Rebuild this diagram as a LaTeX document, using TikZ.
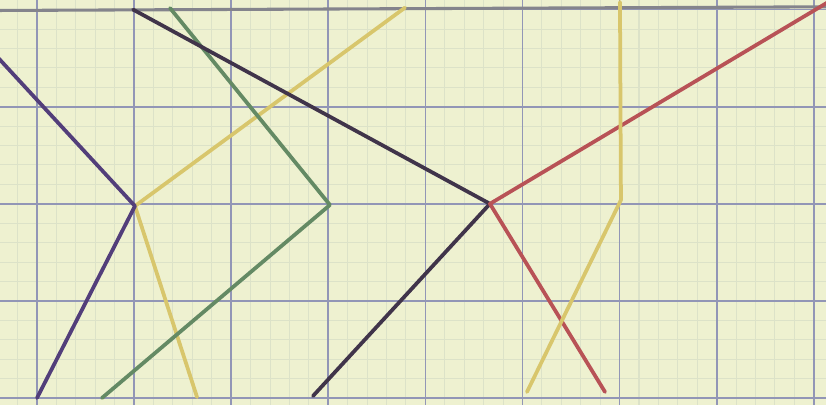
\documentclass[tikz,border=0pt]{standalone}
\usepackage{tikz}
\usetikzlibrary{calc}
\definecolor{paper}{RGB}{238,241,208}
\definecolor{grid_minor}{RGB}{220,226,200}
\definecolor{grid_major}{RGB}{146,150,182}
\definecolor{grid_top}{RGB}{132,132,140}
\definecolor{pen_purple}{RGB}{82,62,122}
\definecolor{pen_dark}{RGB}{64,52,74}
\definecolor{pen_green}{RGB}{100,138,100}
\definecolor{pen_yellow}{RGB}{216,198,108}
\definecolor{pen_red}{RGB}{184,82,86}

\begin{document}
\begin{tikzpicture}[
    minorgrid/.style={draw=grid_minor, line width=0.3pt},
    majorgrid/.style={draw=grid_major, line width=0.5pt},
    pen/.style={line width=1.1pt, line cap=round, line join=round},
]

% Paper
\useasboundingbox (-0.381,-0.072) rectangle (8.126,4.099);
\fill[paper] (-0.381,-0.072) rectangle (8.126,4.099);
\clip (-0.381,-0.072) rectangle (8.126,4.099);

% Grid
\draw[minorgrid, step=0.2] (-0.6,-0.2) grid (8.4,4.2);
\draw[majorgrid, step=1] (-0.6,-0.2) grid (8.4,4.2);
\draw[draw=grid_top, line width=0.9pt] (-0.6,3.99) -- (8.4,4.03);

% Points
\coordinate (pa) at (-0.6,3.72);
\coordinate (pv) at (1.009,1.977);
\coordinate (pb) at (0,0);
\coordinate (ya) at (3.79,4.02);
\coordinate (yb) at (1.648,0.01);
\coordinate (da) at (0.99,4.0);
\coordinate (dv) at (4.665,2.0);
\coordinate (db) at (2.842,0.02);
\coordinate (ga) at (1.37,4.016);
\coordinate (gv) at (3.017,1.988);
\coordinate (gb) at (0.669,0);
\coordinate (ra) at (8.27,4.15);
\coordinate (rb) at (5.85,0.062);
\coordinate (wa) at (6.004,4.078);
\coordinate (wv) at (6.014,2.039);
\coordinate (wb) at (5.046,0.062);

% Pen lines
\draw[pen, pen_yellow] (ya) -- (pv) -- (yb);
\draw[pen, pen_green] (ga) -- (gv) -- (gb);
\draw[pen, pen_dark] (da) -- (dv) -- (db);
\draw[pen, pen_purple] (pa) -- (pv) -- (pb);
\draw[pen, pen_red] (ra) -- (dv) -- (rb);
\draw[pen, pen_yellow] (wa) -- (wv) -- (wb);

\end{tikzpicture}
\end{document}
